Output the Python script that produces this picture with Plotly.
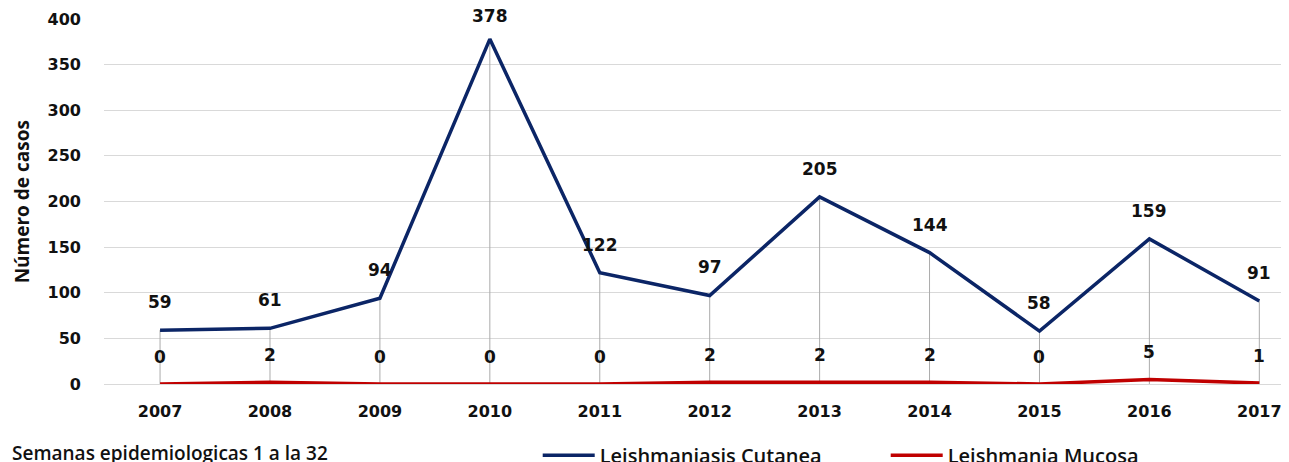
import plotly.graph_objects as go

years = [2007, 2008, 2009, 2010, 2011, 2012, 2013, 2014, 2015, 2016, 2017]
cutanea = [59, 61, 94, 378, 122, 97, 205, 144, 58, 159, 91]
mucosa = [0, 2, 0, 0, 0, 2, 2, 2, 0, 5, 1]
y_ticks = [0, 50, 100, 150, 200, 250, 300, 350, 400]

BLUE = "#0b2566"
RED = "#c00000"
FONT = "DejaVu Sans"

fig = go.Figure()

# drop lines
dx, dy = [], []
for x, v in zip(years, cutanea):
    dx += [x, x, None]
    dy += [0, v, None]
fig.add_trace(go.Scatter(x=dx, y=dy, mode="lines", line=dict(color="#ababab", width=1),
                         showlegend=False, hoverinfo="skip"))

fig.add_trace(go.Scatter(x=years, y=cutanea, mode="lines", name="Leishmaniasis Cutanea",
                         line=dict(color=BLUE, width=3.5)))
fig.add_trace(go.Scatter(x=years, y=mucosa, mode="lines", name="Leishmania Mucosa",
                         line=dict(color=RED, width=3.5)))

for x, v in zip(years, cutanea):
    fig.add_annotation(x=x, y=v, text=str(v), showarrow=False, yshift=(28 if v < 370 else 23),
                       font=dict(family=FONT, size=17, color="#111111", weight="bold"))
for x, v in zip(years, mucosa):
    fig.add_annotation(x=x, y=v, text=str(v), showarrow=False, yshift=27,
                       font=dict(family=FONT, size=17, color="#111111", weight="bold"))

fig.add_annotation(xref="paper", yref="paper", x=-0.082, y=0.5, text="Número de casos",
                   textangle=-90, showarrow=False,
                   font=dict(family="Open Sans", size=19, color="#111111", weight="bold"))
fig.add_annotation(xref="paper", yref="paper", x=-0.079, y=-0.19, xanchor="left", yanchor="middle",
                   text="Semanas epidemiologicas 1 a la 32", showarrow=False,
                   font=dict(family="Open Sans", size=19, color="#111111", weight=600))

fig.update_layout(
    template="none",
    width=1281, height=454,
    margin=dict(l=96, r=0, t=11, b=78, autoexpand=False),
    paper_bgcolor="white", plot_bgcolor="white",
    showlegend=True,
    legend=dict(orientation="h", x=0.366, xanchor="left", y=-0.195, yanchor="middle",
                entrywidth=281, entrywidthmode="pixels", itemwidth=52,
                font=dict(family="Open Sans", size=20, color="#111111", weight=600),
                bgcolor="rgba(0,0,0,0)"),
    xaxis=dict(range=[2006.49, 2017.27], tickvals=years, ticktext=[str(y) for y in years],
               showgrid=False, zeroline=False, showline=False, ticks="", automargin=False,
               ticklabelstandoff=16,
               tickfont=dict(family=FONT, size=16, color="#111111", weight="bold")),
    yaxis=dict(range=[0, 400], tickvals=y_ticks, showgrid=True, gridcolor="#d9d9d9", gridwidth=1,
               zeroline=True, zerolinecolor="#d9d9d9", zerolinewidth=1, showline=False, ticks="",
               ticklabelstandoff=22, automargin=False,
               tickfont=dict(family=FONT, size=16, color="#111111", weight="bold")),
)

fig.write_html("out.html")
